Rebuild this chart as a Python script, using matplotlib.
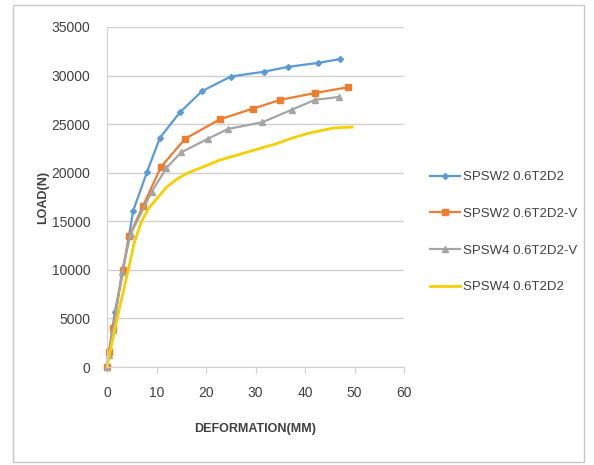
import numpy as np
import matplotlib.pyplot as plt
from matplotlib.patches import Rectangle

plt.rcParams['font.family'] = ['Liberation Sans', 'DejaVu Sans']

# deformation (mm) / load (N)
blue_x = [0, 0.5, 1.6, 3.2, 5.3, 8.1, 10.7, 14.7, 19.2, 25.0, 31.7, 36.6, 42.6, 47.1]
blue_y = [0, 1800, 5700, 9800, 16100, 20100, 23600, 26200, 28400, 29900, 30400, 30900, 31300, 31700]

orange_x = [0, 0.4, 1.2, 3.2, 4.5, 7.3, 10.9, 15.8, 22.8, 29.5, 35.0, 42.0, 48.7]
orange_y = [0, 1500, 4000, 10000, 13500, 16600, 20600, 23500, 25500, 26600, 27500, 28200, 28800]

gray_x = [0, 0.4, 1.3, 3.0, 4.8, 9.0, 12.0, 15.0, 20.4, 24.4, 31.4, 37.4, 42.0, 46.9]
gray_y = [0, 1200, 3800, 9800, 13700, 18000, 20500, 22100, 23500, 24500, 25200, 26500, 27500, 27800]

yellow_x = [0, 1, 2.5, 4.3, 5.5, 7, 8.5, 10.7, 12, 14, 16, 19.4, 22.8, 27.5, 29.5, 34.3, 37.6, 41, 45.7, 49.5]
yellow_y = [0, 2500, 6000, 10000, 12800, 15000, 16400, 17700, 18500, 19300, 19900, 20600, 21300, 22000,
            22300, 23000, 23600, 24100, 24600, 24700]

labels = ['SPSW2 0.6T2D2', 'SPSW2 0.6T2D2-V', 'SPSW4 0.6T2D2-V', 'SPSW4 0.6T2D2']
xticks = [0, 10, 20, 30, 40, 50, 60]
yticks = [0, 5000, 10000, 15000, 20000, 25000, 30000, 35000]

f = plt.figure(figsize=(5.94, 4.65), dpi=100)
ax = f.add_axes([107/594, 98/465, 297/594, 340/465])

ax.plot(blue_x, blue_y, color='#5B9BD5', marker='D', ms=3, lw=1.6, label=labels[0], clip_on=False)
ax.plot(orange_x, orange_y, color='#ED7D31', marker='s', ms=4, lw=1.6, label=labels[1], clip_on=False)
ax.plot(gray_x, gray_y, color='#A5A5A5', marker='^', ms=4, lw=1.6, label=labels[2], clip_on=False)
ax.plot(yellow_x, yellow_y, color='#F5D000', lw=2, label=labels[3], clip_on=False)

ax.set_xlim(0, 60)
ax.set_ylim(0, 35000)
ax.set_xticks(xticks)
ax.set_yticks(yticks)
ax.yaxis.grid(True, color='#D0D0D0', lw=1)
ax.set_axisbelow(True)
for s in ['top', 'right']:
    ax.spines[s].set_visible(False)
ax.spines['left'].set_color('#D0D0D0')
ax.spines['bottom'].set_color('#D0D0D0')
ax.tick_params(axis='y', length=0, pad=12, labelsize=10, labelcolor='#404040')
ax.tick_params(axis='x', length=4, color='#D0D0D0', pad=10, labelsize=10, labelcolor='#404040')

f.text(43/594, 1 - 197/465, 'LOAD(N)', rotation=90, ha='center', va='center',
       fontsize=9, fontweight='bold', color='#404040')
f.text(255/594, 1 - 429/465, 'DEFORMATION(MM)', ha='center', va='center',
       fontsize=9, fontweight='bold', color='#404040')

f.legend(loc='upper left', bbox_to_anchor=(430/594, 1 - 171/465), frameon=False,
         fontsize=9.5, labelspacing=1.85, handlelength=2.3, handletextpad=0.2,
         borderpad=0, borderaxespad=0, labelcolor='#404040')

# outer chart border
f.patches.append(Rectangle((13/594, 3/465), 571/594, 457/465, transform=f.transFigure,
                           fill=False, edgecolor='#C8C8C8', lw=1))

plt.savefig('out.png', dpi=100)
